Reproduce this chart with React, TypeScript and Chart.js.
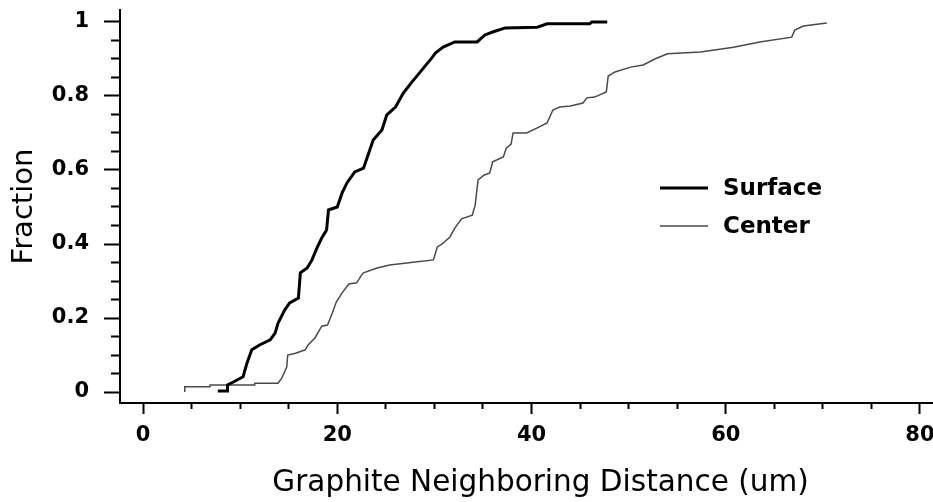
import React, { useEffect, useRef } from "react";
import { Chart, registerables } from "chart.js";

Chart.register(...registerables);

// ---- Data ----
const seriesNames = ["Surface", "Center"];

const surfaceX = [7.7, 8.7, 8.7, 9.3, 10.3, 10.7, 11.2, 12.0, 13.1, 13.6, 13.9, 14.6, 15.1, 16.0, 16.2, 16.9, 17.4, 17.9, 18.4, 18.9, 19.1, 20.0, 20.5, 21.0, 21.8, 22.7, 23.1, 23.7, 24.6, 25.1, 26.0, 26.8, 27.7, 28.7, 29.8, 30.1, 30.9, 32.1, 34.4, 35.2, 36.0, 37.3, 40.6, 41.6, 46.0, 46.2, 47.8];
const surfaceY = [0.003, 0.003, 0.019, 0.027, 0.041, 0.078, 0.114, 0.127, 0.141, 0.159, 0.186, 0.222, 0.241, 0.254, 0.322, 0.335, 0.357, 0.389, 0.416, 0.438, 0.492, 0.5, 0.538, 0.565, 0.595, 0.605, 0.635, 0.681, 0.708, 0.749, 0.77, 0.808, 0.838, 0.87, 0.905, 0.916, 0.932, 0.946, 0.946, 0.965, 0.973, 0.984, 0.986, 0.995, 0.995, 1.0, 1.0];

const centerX = [4.3, 4.3, 6.9, 6.9, 11.5, 11.5, 13.9, 14.3, 14.8, 14.9, 15.7, 16.7, 17.0, 17.7, 18.4, 19.0, 19.5, 19.9, 20.5, 21.2, 22.0, 22.5, 22.7, 24.1, 25.4, 27.8, 29.9, 30.3, 30.8, 31.6, 32.1, 32.8, 33.9, 34.2, 34.5, 35.1, 35.7, 36.0, 37.1, 37.4, 37.9, 38.1, 39.5, 40.6, 41.6, 42.2, 42.9, 44.0, 45.3, 45.7, 46.5, 47.7, 47.9, 48.6, 50.2, 51.5, 52.7, 54.0, 57.4, 60.8, 63.5, 66.8, 67.1, 68.0, 70.4];
const centerY = [0.0, 0.014, 0.014, 0.019, 0.019, 0.024, 0.024, 0.038, 0.068, 0.1, 0.105, 0.114, 0.127, 0.146, 0.178, 0.181, 0.214, 0.243, 0.268, 0.292, 0.295, 0.316, 0.322, 0.335, 0.343, 0.351, 0.357, 0.392, 0.4, 0.419, 0.443, 0.468, 0.478, 0.505, 0.573, 0.586, 0.592, 0.622, 0.635, 0.659, 0.67, 0.7, 0.7, 0.714, 0.727, 0.762, 0.77, 0.773, 0.781, 0.795, 0.797, 0.811, 0.854, 0.865, 0.878, 0.884, 0.9, 0.914, 0.919, 0.932, 0.946, 0.959, 0.978, 0.989, 0.997];

const xTitle = "Graphite Neighboring Distance (um)";
const yTitle = "Fraction";
const xMajorStep = 20;
const xMinorStep = 5;
const yMajorStep = 0.2;
const yMinorStep = 0.05;

const FONT = "'DejaVu Sans', 'Liberation Sans', Arial, sans-serif";

const isMultiple = (v: number, step: number) =>
  Math.abs(v / step - Math.round(v / step)) < 1e-6;

// Legend drawn inside the plot area, plus the x-axis title (placed as in the reference)
const decorPlugin = {
  id: "decor",
  afterDraw(chart: any) {
    const ctx = chart.ctx;
    const area = chart.chartArea;
    const lx = area.left + 540;
    const ly0 = area.top + 178;
    const gap = 38;
    ctx.save();
    chart.data.datasets.forEach((ds: any, i: number) => {
      const y = ly0 + i * gap;
      ctx.beginPath();
      ctx.strokeStyle = ds.borderColor;
      ctx.lineWidth = ds.borderWidth;
      ctx.moveTo(lx, y);
      ctx.lineTo(lx + 48, y);
      ctx.stroke();
      ctx.fillStyle = "#000";
      ctx.font = `bold 23px ${FONT}`;
      ctx.textBaseline = "middle";
      ctx.textAlign = "left";
      ctx.fillText(ds.label, lx + 63, y + 1);
    });
    // x-axis title
    ctx.fillStyle = "#000";
    ctx.font = `29.5px ${FONT}`;
    ctx.textAlign = "center";
    ctx.textBaseline = "alphabetic";
    ctx.fillText(xTitle, (area.left + area.right) / 2 + 14, area.bottom + 88);
    ctx.restore();
  },
};

export default function App() {
  const ref = useRef<HTMLCanvasElement | null>(null);

  useEffect(() => {
    if (!ref.current) return;
    const surface = surfaceX.map((x, i) => ({ x, y: surfaceY[i] }));
    const center = centerX.map((x, i) => ({ x, y: centerY[i] }));

    const chart = new Chart(ref.current, {
      type: "line",
      data: {
        datasets: [
          {
            label: seriesNames[0],
            data: surface,
            borderColor: "#000000",
            borderWidth: 3,
            pointRadius: 0,
            tension: 0,
            fill: false,
          },
          {
            label: seriesNames[1],
            data: center,
            borderColor: "#4a4a4a",
            borderWidth: 1.5,
            pointRadius: 0,
            tension: 0,
            fill: false,
          },
        ],
      },
      options: {
        animation: false,
        responsive: false,
        devicePixelRatio: 1,
        layout: { padding: { top: 10, right: 0, left: 0, bottom: 0 } },
        plugins: {
          legend: { display: false },
          tooltip: { enabled: false },
        },
        scales: {
          x: {
            type: "linear",
            position: "bottom",
            min: -2.37,
            max: 81.34,
            afterFit: (s: any) => {
              s.height = 99;
              s.paddingLeft = 0;
              s.paddingRight = 0;
            },
            border: { display: true, color: "#000", width: 2 },
            grid: {
              drawOnChartArea: false,
              drawTicks: true,
              tickLength: 11,
              tickWidth: 2,
              tickColor: "#000",
              tickBorderDash: (c: any) =>
                c.tick && isMultiple(c.tick.value, xMajorStep) ? [] : [5, 100],
            },
            ticks: {
              stepSize: xMinorStep,
              includeBounds: false,
              autoSkip: false,
              maxRotation: 0,
              minRotation: 0,
              padding: 9,
              color: "#000",
              font: { family: FONT, weight: "bold", size: 21 },
              callback: (v: any) => (isMultiple(Number(v), xMajorStep) ? String(Math.round(Number(v))) : ""),
            },
            title: { display: false, text: xTitle },
          },
          y: {
            type: "linear",
            position: "left",
            min: -0.0297,
            max: 1.0324,
            afterFit: (s: any) => {
              s.width = 120;
              s.paddingTop = 0;
              s.paddingBottom = 0;
            },
            border: { display: true, color: "#000", width: 2 },
            grid: {
              drawOnChartArea: false,
              drawTicks: true,
              tickLength: 16,
              tickWidth: 2,
              tickColor: "#000",
              tickBorderDash: (c: any) =>
                c.tick && isMultiple(c.tick.value, yMajorStep) ? [] : [0, 7, 9, 100],
            },
            ticks: {
              stepSize: yMinorStep,
              includeBounds: false,
              autoSkip: false,
              padding: 15,
              color: "#000",
              font: { family: FONT, weight: "bold", size: 21 },
              callback: (v: any) =>
                isMultiple(Number(v), yMajorStep) ? String(Number(Number(v).toFixed(1))) : "",
            },
            title: {
              display: true,
              text: yTitle,
              color: "#000",
              font: { family: FONT, size: 29, lineHeight: 1 },
              padding: { top: 10, bottom: 0 },
            },
          },
        },
      } as any,
      plugins: [decorPlugin],
    });

    return () => chart.destroy();
  }, []);

  return (
    <div style={{ position: "fixed", left: 0, top: 0, width: 933, height: 502, background: "#fff" }}>
      <canvas ref={ref} width={933} height={502} style={{ display: "block" }} />
    </div>
  );
}
